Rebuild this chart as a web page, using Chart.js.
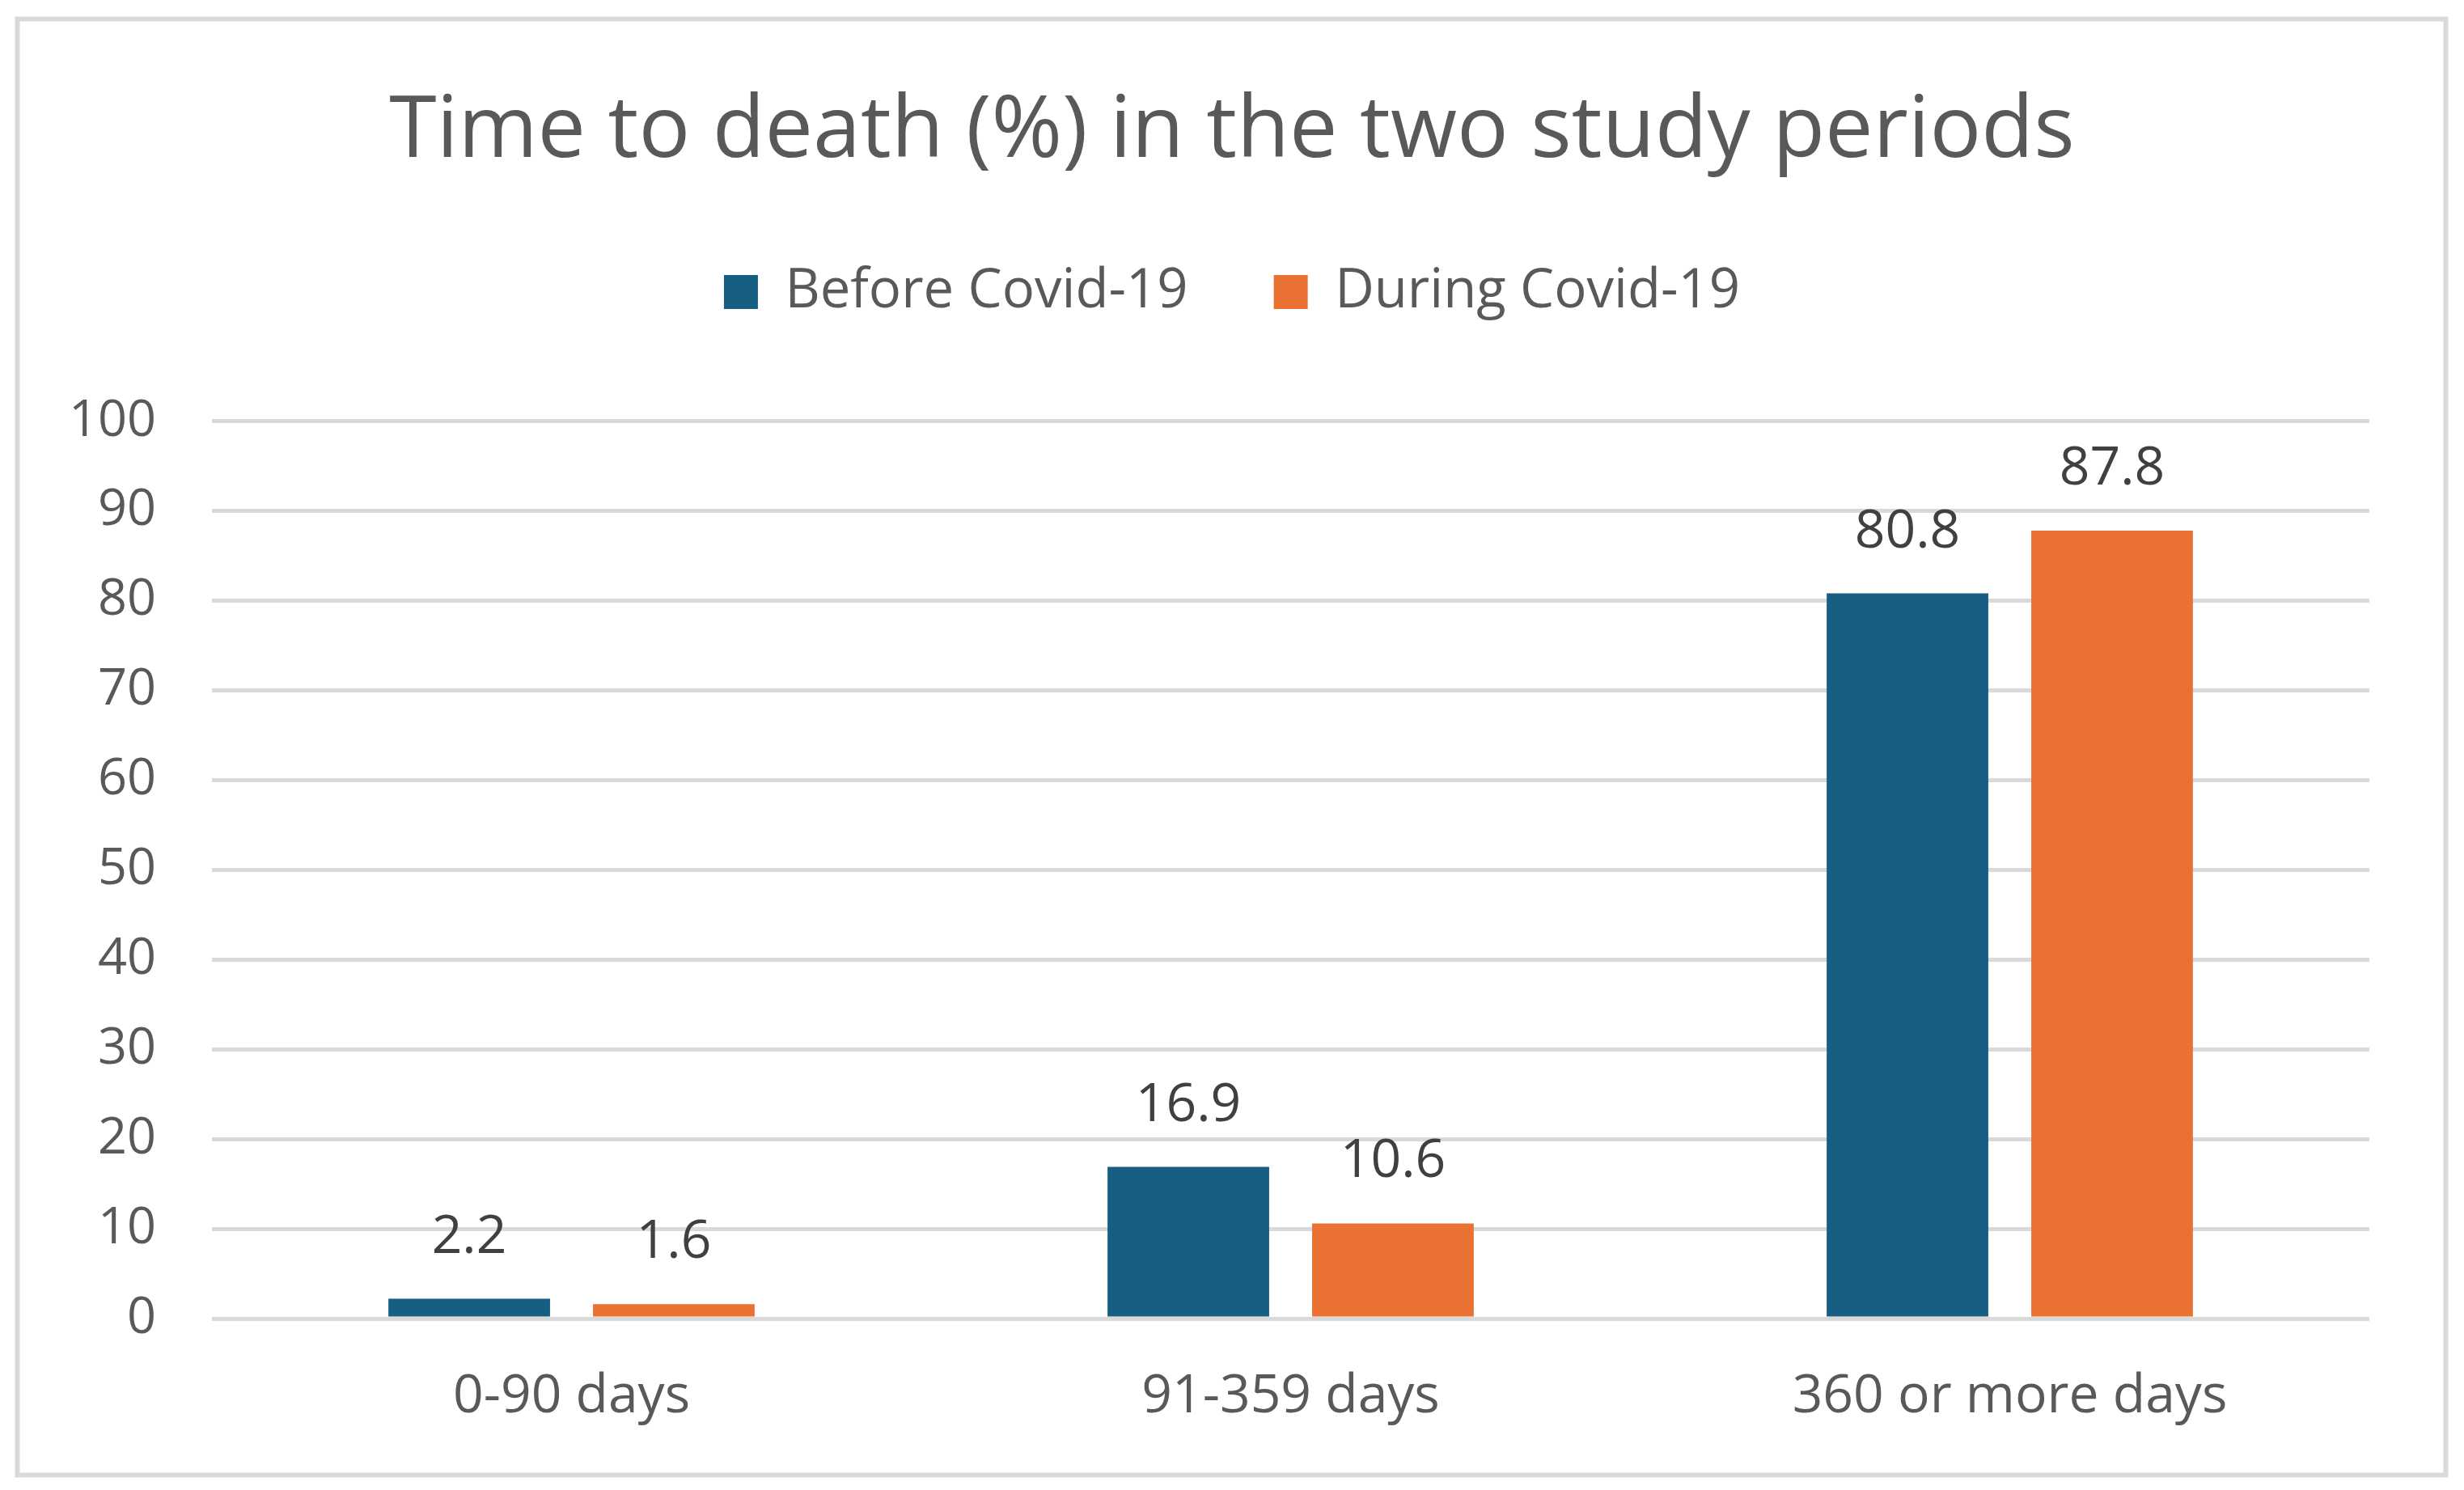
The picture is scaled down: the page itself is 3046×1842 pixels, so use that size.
<!DOCTYPE html>
<html>
<head>
<meta charset="utf-8">
<script src="https://cdn.jsdelivr.net/npm/chart.js@4"></script>
<style>
  html, body { margin: 0; padding: 0; background: #fff; }
  canvas { display: block; }
</style>
</head>
<body>
<canvas id="chart" width="3046" height="1842"></canvas>
<script>
const categories = ["0-90 days", "91-359 days", "360 or more days"];
const beforeCovid = [2.2, 16.9, 80.8];
const duringCovid = [1.6, 10.6, 87.8];
const seriesNames = ["Before Covid-19", "During Covid-19"];
const yTicks = [0, 10, 20, 30, 40, 50, 60, 70, 80, 90, 100];

const FONT = '"Open Sans", "Liberation Sans", Arial, sans-serif';
const TEXT = "#595959";

// white background + light grey frame
const frame = {
    id: "frame",
    beforeDraw(chart) {
        const ctx = chart.ctx;
        ctx.save();
        ctx.fillStyle = "#fff";
        ctx.fillRect(0, 0, chart.width, chart.height);
        ctx.strokeStyle = "#d9d9d9";
        ctx.lineWidth = 6;
        ctx.strokeRect(21.5, 23.5, 3002, 1800);
        ctx.restore();
    }
};

// extra room under the legend
const legendGap = {
    id: "legendGap",
    beforeInit(chart) {
        const fit = chart.legend.fit;
        chart.legend.fit = function () {
            fit.call(this);
            this.height += 116;
        };
    }
};

// value labels above bars
const barLabels = {
    id: "barLabels",
    afterDatasetsDraw(chart) {
        const ctx = chart.ctx;
        ctx.save();
        ctx.font = "66px " + FONT;
        ctx.fillStyle = "#404040";
        ctx.textAlign = "center";
        ctx.textBaseline = "alphabetic";
        chart.data.datasets.forEach((ds, i) => {
            chart.getDatasetMeta(i).data.forEach((bar, j) => {
                ctx.fillText(ds.data[j].toFixed(1), bar.x, bar.y - 57);
            });
        });
        ctx.restore();
    }
};

new Chart(document.getElementById("chart"), {
    type: "bar",
    data: {
        labels: categories,
        datasets: [
            { label: seriesNames[0], data: beforeCovid, backgroundColor: "#175f82" },
            { label: seriesNames[1], data: duringCovid, backgroundColor: "#e97132" }
        ]
    },
    options: {
        responsive: false,
        animation: false,
        devicePixelRatio: 1,
        categoryPercentage: 0.569,
        barPercentage: 0.79,
        layout: { padding: { top: 30, left: 50, right: 50, bottom: 0 } },
        plugins: {
            title: {
                display: true,
                text: "Time to death (%) in the two study periods",
                color: TEXT,
                font: { family: FONT, size: 106, weight: "normal", lineHeight: 1.1 },
                padding: { top: 75, bottom: 0 }
            },
            legend: {
                display: true,
                labels: {
                    color: TEXT,
                    font: { family: FONT, size: 67 },
                    boxWidth: 42,
                    boxHeight: 42,
                    padding: 106
                }
            },
            tooltip: { enabled: false }
        },
        scales: {
            x: {
                grid: { display: false },
                border: { display: false },
                ticks: { color: TEXT, font: { family: FONT, size: 66 }, padding: 50 },
                afterFit(scale) { scale.height = 212; }
            },
            y: {
                min: 0,
                max: 100,
                afterBuildTicks(scale) { scale.ticks = yTicks.map(v => ({ value: v })); },
                grid: { color: "#d9d9d9", lineWidth: 5, drawTicks: false },
                border: { display: false },
                ticks: { color: TEXT, font: { family: FONT, size: 63 }, padding: 69 },
                afterFit(scale) { scale.width = 212; }
            },
            yRight: {
                position: "right",
                display: true,
                grid: { display: false, drawTicks: false },
                border: { display: false },
                ticks: { display: false },
                afterFit(scale) { scale.width = 67; }
            }
        }
    },
    plugins: [frame, legendGap, barLabels]
});
</script>
</body>
</html>
